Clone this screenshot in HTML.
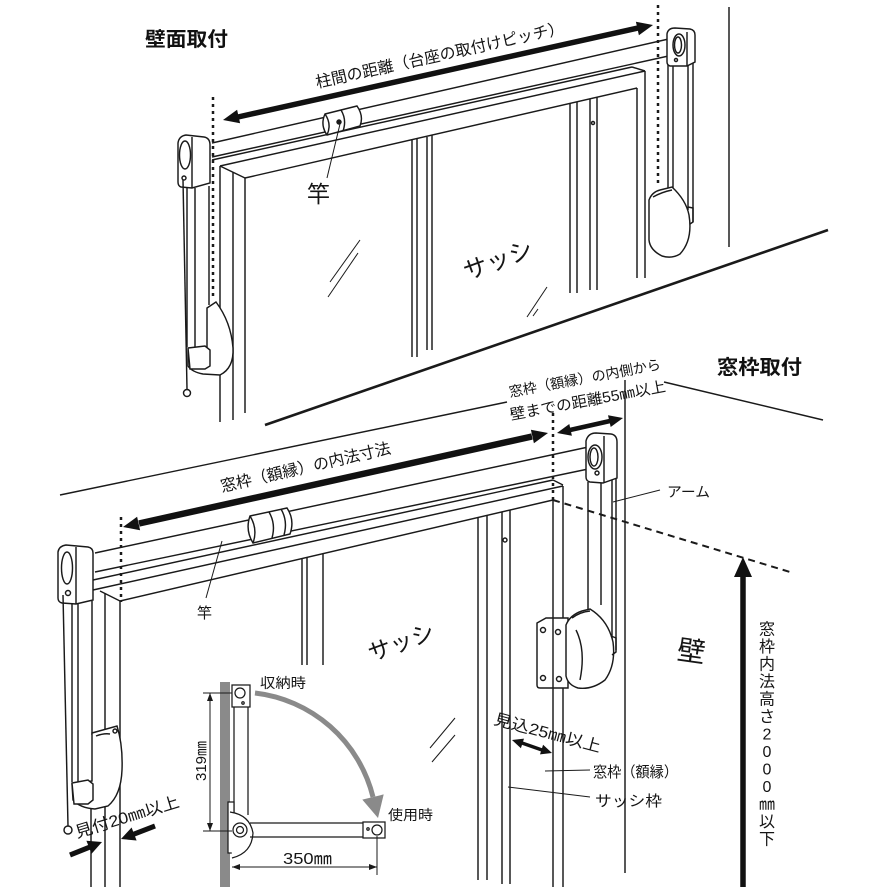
<!DOCTYPE html>
<html><head><meta charset="utf-8"><style>
html,body{margin:0;padding:0;background:#fff;}
svg{display:block;}
text{font-family:"Liberation Sans","Noto Sans CJK JP",sans-serif;fill:#151515;stroke:none;}
.b{font-weight:bold;fill:#111;}
</style></head><body>
<svg width="884" height="887" viewBox="0 0 884 887" xmlns="http://www.w3.org/2000/svg">
<rect width="884" height="887" fill="#fff"/>

<!-- ================= TOP DIAGRAM ================= -->
<g stroke="#1a1a1a" stroke-width="1.45" fill="none">
  <line x1="729" y1="7" x2="729" y2="247"/>
  <line x1="265" y1="425" x2="828" y2="230" stroke-width="2.6"/>

  <line x1="212" y1="160" x2="632" y2="67"/>
  <line x1="220" y1="166" x2="645" y2="71"/>
  <line x1="245" y1="178" x2="637" y2="88"/>
  <line x1="632" y1="67" x2="645" y2="71"/>
  <line x1="220" y1="166" x2="245" y2="178"/>
  <line x1="220" y1="166" x2="220" y2="422"/>
  <line x1="233" y1="172" x2="233" y2="420"/>
  <line x1="245" y1="178" x2="245" y2="413"/>
  <line x1="637" y1="88" x2="637" y2="278"/>
  <line x1="645" y1="71" x2="645" y2="278"/>

  <line x1="412" y1="140" x2="412" y2="357"/>
  <line x1="417" y1="139" x2="417" y2="357"/>
  <line x1="427" y1="137" x2="427" y2="350"/>
  <line x1="432" y1="135" x2="432" y2="350"/>
  <line x1="570" y1="103" x2="570" y2="293"/>
  <line x1="577" y1="102" x2="577" y2="293"/>
  <line x1="590" y1="99" x2="590" y2="290"/>
  <line x1="597" y1="97" x2="597" y2="290"/>
  <circle cx="593" cy="123" r="1.5"/>

  <line x1="330" y1="282" x2="360" y2="240" stroke-width="1"/>
  <line x1="328" y1="297" x2="358" y2="253" stroke-width="1"/>
  <line x1="527" y1="317" x2="547" y2="287" stroke-width="1"/>
  <line x1="533" y1="316" x2="538" y2="309" stroke-width="1"/>

  <line x1="212" y1="143" x2="673" y2="38"/>
  <line x1="212" y1="157" x2="673" y2="55"/>
  <path d="M325,114 L357,106 Q364,116 360,126 L327,135 Q320,125 325,114 Z" fill="#fff"/>
  <path d="M325,114 Q332,124 327,135"/>
  <path d="M341,110 Q347,120 343,131"/>
  <circle cx="339" cy="122" r="2" fill="#1a1a1a"/>
  <line x1="340" y1="124" x2="327" y2="178" stroke-width="1"/>

  <line x1="213" y1="97" x2="213" y2="300" stroke-width="2.5" stroke-dasharray="3 4"/>
  <line x1="658" y1="5" x2="658" y2="187" stroke-width="2.5" stroke-dasharray="3 4"/>

  <line x1="187" y1="188" x2="187" y2="347"/>
  <line x1="195" y1="188" x2="195" y2="347"/>
  <line x1="209" y1="186" x2="209" y2="305"/>
  <path d="M178,143 Q179,136 186,135 L204,137 Q210,138 210,145 L210,183 L192,188 L181,187 Q178,186 178,182 Z" fill="#fff"/>
  <line x1="192" y1="137" x2="192" y2="188"/>
  <ellipse cx="185" cy="155" rx="5.5" ry="14"/>
  <circle cx="184" cy="178" r="2"/>
  <path d="M207,308 L216,302 Q231,322 233,348 Q234,368 220,375 L203,374 Q192,372 188,366 L188,350 L207,348 Z" fill="#fff"/>
  <path d="M188,348 L205,346 L210,350 L210,366 L205,369 L190,369 Z" fill="#fff"/>
  <line x1="183" y1="180" x2="187" y2="389"/>
  <circle cx="187" cy="393" r="3.5" fill="#fff"/>

  <line x1="668" y1="65" x2="668" y2="190"/>
  <line x1="673" y1="65" x2="673" y2="188"/>
  <line x1="688" y1="65" x2="688" y2="210"/>
  <line x1="693" y1="63" x2="693" y2="222"/>
  <path d="M667,34 Q668,28 675,28 L690,29 Q695,30 695,35 L695,62 L687,66 L670,66 Q667,65 667,62 Z" fill="#fff"/>
  <line x1="687" y1="32" x2="687" y2="66"/>
  <ellipse cx="679" cy="45" rx="6" ry="11" fill="#fff"/>
  <ellipse cx="678" cy="45" rx="3.5" ry="8"/>
  <circle cx="676" cy="60" r="1.5"/>
  <path d="M649,200 Q652,192 660,190 L672,187 Q686,200 689,215 Q693,240 680,254 Q672,259 662,256 Q650,250 649,240 Z" fill="#fff"/>
  <path d="M653,197 Q662,192 672,190"/>
  <path d="M688,207 L693,208 L693,222 L690,224"/>
</g>

<g fill="#111" stroke="none">
  <line x1="238" y1="117" x2="638" y2="28" stroke="#111" stroke-width="5.5"/>
  <polygon points="223,120 240.1,123.3 237.1,109.7"/>
  <polygon points="653,25 638.9,35.3 635.9,21.7"/>
</g>

<text class="b" x="145" y="46" font-size="20" textLength="83" lengthAdjust="spacingAndGlyphs">壁面取付</text>
<text transform="translate(317,88) rotate(-12.5)" font-size="16" textLength="254" lengthAdjust="spacingAndGlyphs">柱間の距離（台座の取付けピッチ）</text>
<text x="307" y="202" font-size="23">竿</text>
<text transform="translate(501,268) rotate(-20)" font-size="24" text-anchor="middle">サッシ</text>

<!-- ================= BOTTOM DIAGRAM ================= -->
<g stroke="#1a1a1a" stroke-width="1.45" fill="none">
  <line x1="60" y1="495" x2="507" y2="402"/>
  <line x1="664" y1="382" x2="823" y2="420"/>
  <line x1="625" y1="380" x2="625" y2="873"/>
  <line x1="553" y1="500" x2="790" y2="572" stroke-width="2" stroke-dasharray="7 5"/>
  <line x1="553" y1="413" x2="553" y2="500" stroke-width="2.5" stroke-dasharray="3 4"/>
  <line x1="121" y1="517" x2="121" y2="602" stroke-width="2.5" stroke-dasharray="3 4"/>

  <line x1="93" y1="580" x2="553" y2="480"/>
  <line x1="93" y1="590" x2="563" y2="486"/>
  <line x1="120" y1="601" x2="553" y2="500"/>
  <line x1="553" y1="480" x2="563" y2="485"/>
  <line x1="100" y1="591" x2="120" y2="601"/>
  <line x1="105" y1="593" x2="105" y2="887"/>
  <line x1="120" y1="601" x2="120" y2="887"/>
  <line x1="91" y1="806" x2="91" y2="887"/>
  <line x1="553" y1="500" x2="553" y2="887"/>
  <line x1="563" y1="486" x2="563" y2="887"/>

  <line x1="302" y1="559" x2="302" y2="665"/>
  <line x1="307" y1="557" x2="307" y2="665"/>
  <line x1="323" y1="554" x2="323" y2="665"/>
  <line x1="478" y1="517" x2="478" y2="880"/>
  <line x1="487" y1="515" x2="487" y2="880"/>
  <line x1="502" y1="512" x2="502" y2="884"/>
  <line x1="510" y1="510" x2="510" y2="884"/>
  <circle cx="505" cy="540" r="2"/>

  <line x1="430" y1="748" x2="455" y2="718" stroke-width="1"/>
  <line x1="432" y1="762" x2="455" y2="735" stroke-width="1"/>

  <line x1="95" y1="553" x2="593" y2="446"/>
  <line x1="95" y1="572" x2="593" y2="468"/>
  <path d="M250,516 L287,508 Q295,520 290,534 L253,543 Q245,530 250,516 Z" fill="#fff"/>
  <path d="M250,516 Q258,529 253,543"/>
  <path d="M269,512 Q276,524 272,538"/>
  <path d="M281,509 Q288,521 284,535"/>
  <line x1="222" y1="541" x2="206" y2="598" stroke-width="1"/>

  <line x1="72" y1="603" x2="72" y2="782"/>
  <line x1="78" y1="603" x2="78" y2="782"/>
  <line x1="92" y1="601" x2="92" y2="735"/>
  <path d="M58,552 Q59,546 66,545 L88,547 Q93,548 93,553 L93,600 L76,604 L62,603 Q58,602 58,598 Z" fill="#fff"/>
  <line x1="76" y1="547" x2="76" y2="604"/>
  <ellipse cx="67" cy="568" rx="5.5" ry="16"/>
  <circle cx="68" cy="593" r="2.5"/>
  <path d="M92,733 L117,726 Q123,745 122,770 Q121,795 108,806 L95,809 Q80,808 73,800 L72,784 L92,781 Z" fill="#fff"/>
  <circle cx="115" cy="731" r="2"/>
  <path d="M96,736 Q104,733 110,734"/>
  <path d="M72,783 L88,780 L93,784 L93,800 L88,804 L74,804 Z" fill="#fff"/>
  <line x1="63" y1="595" x2="68" y2="826"/>
  <circle cx="68" cy="830" r="4" fill="#fff"/>

  <line x1="588" y1="482" x2="588" y2="618"/>
  <line x1="601" y1="483" x2="601" y2="605"/>
  <line x1="612" y1="480" x2="612" y2="640"/>
  <line x1="616" y1="478" x2="616" y2="650"/>
  <path d="M586,441 Q588,433 596,433 L611,434 Q617,435 617,442 L617,478 L603,483 L590,482 Q586,481 586,477 Z" fill="#fff"/>
  <line x1="604" y1="436" x2="604" y2="483"/>
  <ellipse cx="595" cy="457" rx="7" ry="12" fill="#fff"/>
  <ellipse cx="594" cy="457" rx="4" ry="9"/>
  <circle cx="597" cy="473" r="2"/>
  <path d="M537,623 L546,618 L568,618 L568,688 L540,688 Q537,688 537,685 Z" fill="#fff"/>
  <line x1="553" y1="618" x2="553" y2="688"/>
  <circle cx="543" cy="630" r="2.5"/>
  <circle cx="558" cy="632" r="2.5"/>
  <circle cx="543" cy="678" r="2.5"/>
  <circle cx="559" cy="679" r="2.5"/>
  <path d="M566,625 Q570,615 582,611 L590,609 Q608,620 613,642 Q616,665 605,680 Q592,690 578,688 Q568,685 566,676 Z" fill="#fff"/>
  <path d="M572,618 Q580,612 590,611"/>
  <path d="M576,630 Q586,650 580,680"/>
  <path d="M611,636 L616,638 L616,652 L612,655"/>

  <line x1="613" y1="502" x2="660" y2="490" stroke-width="1"/>
  <line x1="545" y1="771" x2="590" y2="770" stroke-width="1"/>
  <line x1="508" y1="787" x2="590" y2="797" stroke-width="1"/>
</g>

<g fill="#111" stroke="none">
  <line x1="139" y1="523.5" x2="532" y2="436.5" stroke="#111" stroke-width="6.5"/>
  <polygon points="123,527 140.1,530.3 137.1,516.7"/>
  <polygon points="548,433 533.9,443.3 530.9,429.7"/>

  <line x1="570" y1="430" x2="610" y2="421" stroke="#111" stroke-width="4.5"/>
  <polygon points="557,433 571.9,435.7 569.3,424"/>
  <polygon points="623,418 610.7,427 608,415.3"/>

  <line x1="522" y1="743" x2="542" y2="750" stroke="#111" stroke-width="3.5"/>
  <polygon points="512,740 520.9,748.2 524,738.6"/>
  <polygon points="552,753 540,754.4 543.1,744.8"/>

  <line x1="70" y1="855" x2="90" y2="847" stroke="#111" stroke-width="5"/>
  <polygon points="102,842 91.6,853.8 86.4,840.8"/>
  <line x1="155" y1="826" x2="133" y2="834.5" stroke="#111" stroke-width="5"/>
  <polygon points="121,839 136.6,840.5 131.6,827.5"/>

  <line x1="743" y1="572" x2="743" y2="887" stroke="#111" stroke-width="5.5"/>
  <polygon points="743,557 752,577 734,577"/>
</g>

<text class="b" x="717" y="374" font-size="20" textLength="85" lengthAdjust="spacingAndGlyphs">窓枠取付</text>
<text transform="translate(510,397) rotate(-10.5)" font-size="14" textLength="154" lengthAdjust="spacingAndGlyphs">窓枠（額縁）の内側から</text>
<text transform="translate(511,420) rotate(-10.5)" font-size="15" textLength="158" lengthAdjust="spacingAndGlyphs">壁までの距離55㎜以上</text>
<text transform="translate(222,492) rotate(-12.9)" font-size="16" textLength="174" lengthAdjust="spacingAndGlyphs">窓枠（額縁）の内法寸法</text>
<text x="197" y="618" font-size="15">竿</text>
<text x="667" y="497" font-size="14" textLength="43" lengthAdjust="spacingAndGlyphs">アーム</text>
<text transform="translate(404,650) rotate(-20)" font-size="23" text-anchor="middle">サッシ</text>
<text transform="translate(690,661) rotate(8)" font-size="28" text-anchor="middle">壁</text>
<text transform="translate(493,724) rotate(15)" font-size="16" textLength="110" lengthAdjust="spacingAndGlyphs">見込25㎜以上</text>
<text x="593" y="777" font-size="15" textLength="85" lengthAdjust="spacingAndGlyphs">窓枠（額縁）</text>
<text x="595" y="806" font-size="15" textLength="67" lengthAdjust="spacingAndGlyphs">サッシ枠</text>
<text transform="translate(77,838) rotate(-17)" font-size="16" textLength="108" lengthAdjust="spacingAndGlyphs">見付20㎜以上</text>

<g font-size="16" text-anchor="middle">
  <text x="767" y="634.5">窓</text>
  <text x="767" y="652">枠</text>
  <text x="767" y="669.5">内</text>
  <text x="767" y="687">法</text>
  <text x="767" y="704.5">高</text>
  <text x="767" y="722">さ</text>
  <text x="767" y="739.5">2</text>
  <text x="767" y="757">0</text>
  <text x="767" y="774.5">0</text>
  <text x="767" y="792">0</text>
  <text x="767" y="809.5">㎜</text>
  <text x="767" y="827">以</text>
  <text x="767" y="844.5">下</text>
</g>

<!-- ================= INSET ================= -->
<g stroke="#1a1a1a" stroke-width="1.25" fill="none">
  <rect x="220" y="682" width="10" height="205" fill="#8a8a8a" stroke="none"/>
  <line x1="234" y1="707" x2="234" y2="815"/>
  <line x1="248" y1="707" x2="248" y2="815"/>
  <rect x="232" y="685" width="18" height="22" fill="#fff"/>
  <circle cx="240" cy="693" r="5"/>
  <circle cx="243" cy="703" r="1.2"/>
  <rect x="228" y="802" width="6" height="51" fill="#fff"/>
  <path d="M230,812 Q250,815 253,833 Q252,853 232,858" fill="#fff"/>
  <line x1="250" y1="823" x2="364" y2="823"/>
  <line x1="250" y1="837" x2="364" y2="837"/>
  <rect x="363" y="822" width="22" height="16" fill="#fff"/>
  <circle cx="377" cy="830" r="5"/>
  <circle cx="368" cy="829" r="1.2"/>
  <circle cx="240" cy="830" r="7" fill="#fff"/>
  <circle cx="240" cy="830" r="3.5"/>
  <line x1="210" y1="693" x2="210" y2="831" stroke-width="1"/>
  <line x1="203" y1="693" x2="232" y2="693" stroke-width="1"/>
  <line x1="203" y1="831" x2="232" y2="831" stroke-width="1"/>
  <line x1="232" y1="867" x2="377" y2="867" stroke-width="1"/>
  <line x1="377" y1="836" x2="377" y2="875" stroke-width="1"/>
  <path d="M255,693 A138,138 0 0,1 373,797" stroke="#8a8a8a" stroke-width="5"/>
</g>
<g stroke="none">
  <polygon points="378,818 383.7,794.4 362.3,799.6" fill="#8a8a8a"/>
  <polygon points="210,693 207,701 213,701" fill="#1a1a1a"/>
  <polygon points="210,831 207,823 213,823" fill="#1a1a1a"/>
  <polygon points="232,867 240,864 240,870" fill="#1a1a1a"/>
  <polygon points="377,867 369,864 369,870" fill="#1a1a1a"/>
</g>
<text x="260" y="688" font-size="14" textLength="46" lengthAdjust="spacingAndGlyphs">収納時</text>
<text x="388" y="820" font-size="14" textLength="45" lengthAdjust="spacingAndGlyphs">使用時</text>
<text x="283" y="864" font-size="16" textLength="49" lengthAdjust="spacingAndGlyphs">350㎜</text>
<text transform="translate(206,761) rotate(-90)" font-size="15" text-anchor="middle">319㎜</text>

</svg>
</body></html>
